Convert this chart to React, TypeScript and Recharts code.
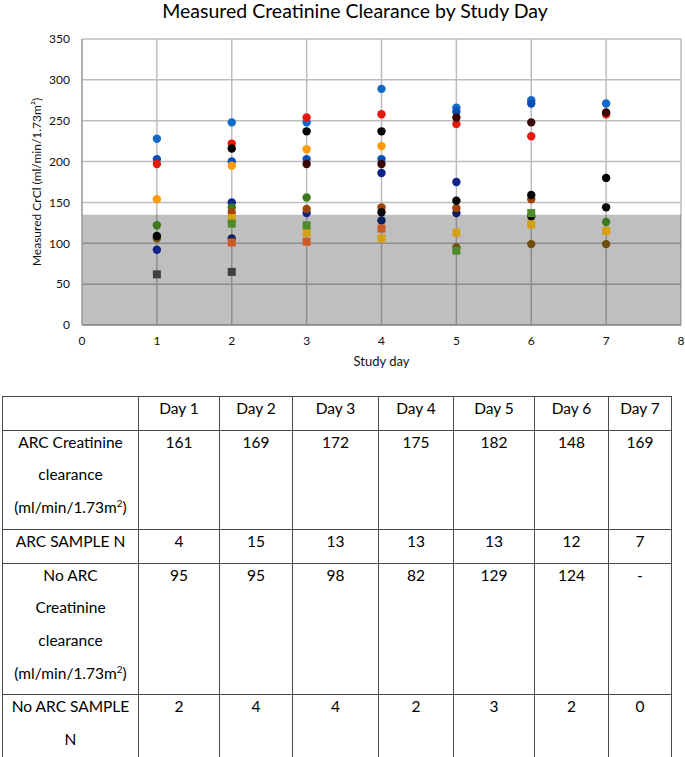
import React from 'react';
import {
  ScatterChart,
  Scatter,
  XAxis,
  YAxis,
  CartesianGrid,
  ReferenceArea,
  Label,
} from 'recharts';

const FONT = 'Lato, "Open Sans", sans-serif';

// study days on the x axis
const days = [1, 2, 3, 4, 5, 6, 7];
const xTicks = [0, 1, 2, 3, 4, 5, 6, 7, 8];
const yTicks = [0, 50, 100, 150, 200, 250, 300, 350];
const arcThreshold = 135;

// measured CrCl per patient series, one value per day (null = no sample)
const lightBlue = [228, 248, 248, 289, 266, 275, 271];
const blue = [203, 200, 203, 203, 261, 271, null];
const red = [197, 222, 254, 258, 246, 231, 258];
const orange = [154, 195, 215, 219, null, null, null];
const black = [109, 216, 237, 237, 152, 159, 180];
const darkBrown = [null, null, 197, 197, 254, 248, 260];
const navy = [92, 150, 137, 186, 175, null, null];
const navy2 = [null, 106, null, 128, 137, null, null];
const black2 = [null, null, null, 138, null, 133, 144];
const green = [122, 144, 156, null, null, null, 126];
const brown = [null, 138, 142, 144, 143, 154, null];
const olive = [106, null, null, null, 95, 99, 99];
const yellowSq = [null, 131, 113, 106, 113, 123, 115];
const greenSq = [null, 124, 122, null, 91, 137, null];
const rustSq = [null, 101, 102, 118, null, null, null];
const greySq = [62, 65, null, null, null, null, null];

const series = [
  { name: 'lightBlue', values: lightBlue, color: '#1469C8', square: false },
  { name: 'blue', values: blue, color: '#0A4FB4', square: false },
  { name: 'red', values: red, color: '#E41B0C', square: false },
  { name: 'orange', values: orange, color: '#FF9A08', square: false },
  { name: 'navy', values: navy, color: '#10238A', square: false },
  { name: 'navy2', values: navy2, color: '#0B1F5E', square: false },
  { name: 'green', values: green, color: '#3C7A1E', square: false },
  { name: 'brown', values: brown, color: '#A0440C', square: false },
  { name: 'olive', values: olive, color: '#6E4E0C', square: false },
  { name: 'black', values: black, color: '#050505', square: false },
  { name: 'black2', values: black2, color: '#0A0A0A', square: false },
  { name: 'darkBrown', values: darkBrown, color: '#3A0606', square: false },
  { name: 'yellowSq', values: yellowSq, color: '#D6A013', square: true },
  { name: 'greenSq', values: greenSq, color: '#4C8A2A', square: true },
  { name: 'rustSq', values: rustSq, color: '#CC5A22', square: true },
  { name: 'greySq', values: greySq, color: '#3F3F3F', square: true },
];

// table below the chart
const dayHeaders = ['Day 1', 'Day 2', 'Day 3', 'Day 4', 'Day 5', 'Day 6', 'Day 7'];
const arcClearance = ['161', '169', '172', '175', '182', '148', '169'];
const arcN = ['4', '15', '13', '13', '13', '12', '7'];
const noArcClearance = ['95', '95', '98', '82', '129', '124', '-'];
const noArcN = ['2', '4', '4', '2', '3', '2', '0'];

const colWidths = [136, 81, 73, 86, 75, 81, 74, 63];

const toPoints = (values: (number | null)[]) =>
  days
    .map((d, i) => ({ x: d, y: values[i] }))
    .filter((p) => p.y !== null);

const makeShape = (color: string, square: boolean) => (props: any) => {
  const { cx, cy } = props;
  if (cx == null || cy == null) return null;
  if (square) {
    return <rect x={cx - 4} y={cy - 4} width={8} height={8} fill={color} />;
  }
  return <circle cx={cx} cy={cy} r={4.2} fill={color} />;
};

const sup = <sup style={{ fontSize: 10, lineHeight: 0 }}>2</sup>;

const cell: React.CSSProperties = {
  border: '1px solid #4a4a4a',
  padding: 0,
  textAlign: 'center',
  verticalAlign: 'top',
};

const Txt: React.FC<{ children: React.ReactNode }> = ({ children }) => (
  <div style={{ position: 'relative', top: -5 }}>{children}</div>
);

const App: React.FC = () => {
  return (
    <div
      style={{
        position: 'absolute',
        top: 0,
        left: 0,
        width: 685,
        height: 757,
        background: '#fff',
        fontFamily: FONT,
      }}
    >
      <div
        style={{
          position: 'absolute',
          top: -1,
          left: 355,
          transform: 'translateX(-50%)',
          whiteSpace: 'nowrap',
          fontSize: 19.5,
          lineHeight: '24px',
          color: '#000',
        }}
      >
        Measured Creatinine Clearance by Study Day
      </div>

      <ScatterChart
        width={685}
        height={370}
        margin={{ top: 39, right: 4, bottom: 0, left: 0 }}
      >
        <CartesianGrid stroke="#BDBDBD" strokeWidth={1.5} />
        <ReferenceArea
          y1={0}
          y2={arcThreshold}
          x1={0}
          x2={8}
          fill="#000"
          fillOpacity={0.25}
          stroke="none"
        />
        <XAxis
          type="number"
          dataKey="x"
          domain={[0, 8]}
          ticks={xTicks}
          height={45}
          tickLine={false}
          tickMargin={5}
          axisLine={{ stroke: '#8c8c8c', strokeWidth: 1.5 }}
          tick={{ fill: '#111', fontSize: 12, fontFamily: FONT }}
        >
          <Label
            value="Study day"
            position="insideBottom"
            offset={4}
            style={{ fill: '#111', fontSize: 13, fontFamily: FONT }}
          />
        </XAxis>
        <YAxis
          type="number"
          dataKey="y"
          domain={[0, 350]}
          ticks={yTicks}
          width={82}
          tickLine={false}
          tickMargin={6}
          axisLine={{ stroke: '#a6a6a6', strokeWidth: 1.5 }}
          tick={{ fill: '#111', fontSize: 12, fontFamily: FONT }}
        >
          <Label
            value="Measured CrCl (ml/min/1.73m²)"
            angle={-90}
            position="center"
            dx={-4}
            style={{ fill: '#111', fontSize: 12, fontFamily: FONT, textAnchor: 'middle' }}
          />
        </YAxis>
        {series.map((s) => (
          <Scatter
            key={s.name}
            name={s.name}
            data={toPoints(s.values)}
            fill={s.color}
            shape={makeShape(s.color, s.square)}
            isAnimationActive={false}
          />
        ))}
      </ScatterChart>

      <table
        style={{
          position: 'absolute',
          top: 396,
          left: 2,
          width: 670,
          borderCollapse: 'collapse',
          tableLayout: 'fixed',
          fontFamily: FONT,
          fontSize: 15.5,
          lineHeight: '32.7px',
          color: '#000',
        }}
      >
        <colgroup>
          {colWidths.map((w, i) => (
            <col key={i} style={{ width: w }} />
          ))}
        </colgroup>
        <tbody>
          <tr style={{ height: 33 }}>
            <td style={cell}></td>
            {dayHeaders.map((d) => (
              <td key={d} style={cell}>
                <Txt>{d}</Txt>
              </td>
            ))}
          </tr>
          <tr style={{ height: 98 }}>
            <td style={cell}>
              <Txt>
                ARC Creatinine
                <br />
                clearance
                <br />
                (ml/min/1.73m{sup})
              </Txt>
            </td>
            {arcClearance.map((v, i) => (
              <td key={i} style={cell}>
                <Txt>{v}</Txt>
              </td>
            ))}
          </tr>
          <tr style={{ height: 33 }}>
            <td style={cell}>
              <Txt>ARC SAMPLE N</Txt>
            </td>
            {arcN.map((v, i) => (
              <td key={i} style={cell}>
                <Txt>{v}</Txt>
              </td>
            ))}
          </tr>
          <tr style={{ height: 131 }}>
            <td style={cell}>
              <Txt>
                No ARC
                <br />
                Creatinine
                <br />
                clearance
                <br />
                (ml/min/1.73m{sup})
              </Txt>
            </td>
            {noArcClearance.map((v, i) => (
              <td key={i} style={cell}>
                <Txt>{v}</Txt>
              </td>
            ))}
          </tr>
          <tr style={{ height: 65 }}>
            <td style={cell}>
              <Txt>
                No ARC SAMPLE
                <br />N
              </Txt>
            </td>
            {noArcN.map((v, i) => (
              <td key={i} style={cell}>
                <Txt>{v}</Txt>
              </td>
            ))}
          </tr>
        </tbody>
      </table>
    </div>
  );
};

export default App;
